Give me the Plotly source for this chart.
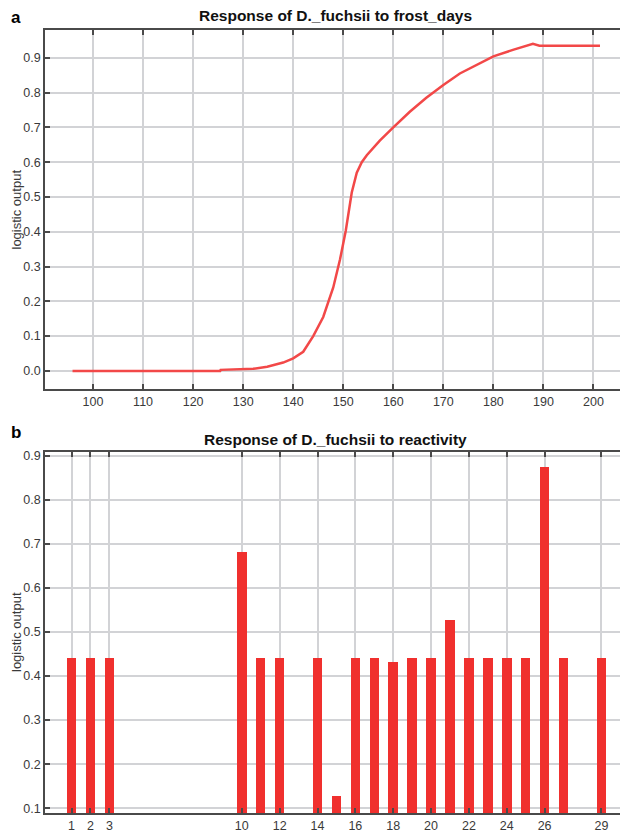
import plotly.graph_objects as go

# Panel a: response curve to frost_days
frost_days = [95.9, 110, 125.4, 125.5, 130, 132, 134.8, 138, 140, 142, 144, 146, 148,
              149.35, 150.5, 151.7, 152.7, 153.7, 154.7, 157.3, 160, 163.3, 166.6, 170,
              173.3, 176.6, 180, 183.9, 187.9, 189.2, 201.3]
frost_output = [0.0, 0.0, 0.0, 0.003, 0.004, 0.006, 0.012, 0.024, 0.036, 0.055, 0.10, 0.155,
                0.24, 0.32, 0.403, 0.513, 0.57, 0.60, 0.62, 0.662, 0.70, 0.745, 0.785, 0.822,
                0.855, 0.88, 0.904, 0.923, 0.94, 0.935, 0.935]

# Panel b: response to reactivity (categorical levels)
reactivity = [1, 2, 3, 10, 11, 12, 14, 15, 16, 17, 18, 19, 20, 21, 22, 23, 24, 25, 26, 27, 29]
reactivity_output = [0.44, 0.44, 0.44, 0.681, 0.44, 0.44, 0.44, 0.127, 0.44, 0.44, 0.433,
                     0.44, 0.44, 0.528, 0.44, 0.44, 0.44, 0.44, 0.874, 0.44, 0.44]
reactivity_ticks = [1, 2, 3, 10, 12, 14, 16, 18, 20, 22, 24, 26, 29]

title_a = "Response of D._fuchsii to frost_days"
title_b = "Response of D._fuchsii to reactivity"
ytitle = "logistic output"

# page body has an 8px default margin; figure is sized to fill the 628x838 window
OFF = 8
W, H = 628 - OFF, 838 - OFF
FONT = "Liberation Sans, Arial, sans-serif"
GRID = "#d2d3d6"
AXC = "#4a4a4a"
TICKF = dict(family=FONT, size=12.5, color="#3a3a3a")

fig = go.Figure()
fig.add_trace(go.Scatter(x=frost_days, y=frost_output, mode="lines",
                         line=dict(color="#f24848", width=2.5), xaxis="x", yaxis="y",
                         showlegend=False))
fig.add_trace(go.Bar(x=reactivity, y=reactivity_output, width=0.5,
                     marker=dict(color="#f0302e", line=dict(width=0)),
                     xaxis="x2", yaxis="y2", showlegend=False))

def px_x(p):
    return (p - OFF) / W

def px_y(p):
    return 1 - (p - OFF) / H

common = dict(showline=True, linecolor=AXC, linewidth=1.5, mirror="ticks",
              ticks="inside", ticklen=5, tickwidth=1.5, tickcolor=AXC,
              showgrid=True, gridcolor=GRID, gridwidth=1.5, zeroline=False,
              tickfont=TICKF, automargin=False)

def note(text, x, y, size, color="#111", angle=0, **kw):
    return dict(text=text, x=px_x(x), y=px_y(y), xref="paper", yref="paper",
                xanchor="center", yanchor="middle", textangle=angle,
                showarrow=False, font=dict(family=FONT, size=size, color=color), **kw)

fig.update_layout(
    width=W, height=H,
    margin=dict(l=0, r=0, t=0, b=0, autoexpand=False),
    paper_bgcolor="white", plot_bgcolor="white",
    bargap=0,
    xaxis=dict(domain=[px_x(45), px_x(626)], range=[90.4, 206.5],
               tickvals=list(range(100, 201, 10)), anchor="y", **common),
    yaxis=dict(domain=[px_y(389), px_y(30)], range=[-0.052, 0.98],
               tickvals=[i / 10 for i in range(0, 10)], tickformat=".1f", anchor="x",
               **common),
    xaxis2=dict(domain=[px_x(45), px_x(626)], range=[-0.4, 30.3],
                tickvals=reactivity_ticks, anchor="y2", **common),
    yaxis2=dict(domain=[px_y(813), px_y(452)], range=[0.089, 0.909],
                tickvals=[i / 10 for i in range(1, 10)], tickformat=".1f", anchor="x2",
                **common),
    annotations=[
        note("<b>" + title_a + "</b>", 335.5, 16, 15.5),
        note("<b>" + title_b + "</b>", 335.5, 439, 15.5),
        note("<b>a</b>", 16, 17, 17, "#000", height=16, valign="middle"),
        note("<b>b</b>", 16, 432, 17, "#000"),
        note(ytitle, 16, 209.5, 13, "#3a3a3a", -90),
        note(ytitle, 16, 632, 13, "#3a3a3a", -90),
    ],
)

fig.write_html("out.html")
